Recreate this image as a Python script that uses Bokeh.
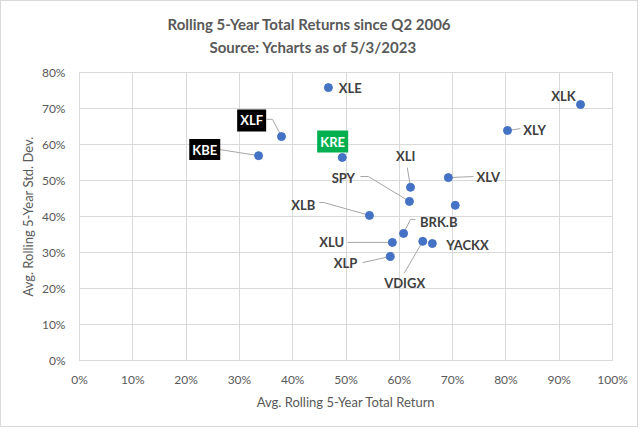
from bokeh.plotting import figure
from bokeh.models import Range1d, FixedTicker, PrintfTickFormatter, Title, ColumnDataSource
from bokeh.core.properties import value
from bokeh.embed import file_html
from bokeh.resources import INLINE

# ---- data ----
tickers = ["XLE", "XLF", "KBE", "KRE", "XLK", "XLY", "XLV", "XLI", "SPY", "",
           "XLB", "BRK.B", "XLU", "VDIGX", "YACKX", "XLP"]
avg_return = [46.7, 37.9, 33.6, 49.3, 94.0, 80.3, 69.2, 62.1, 61.9, 70.5,
              54.4, 60.8, 58.7, 64.4, 66.2, 58.3]
avg_stdev = [75.8, 62.2, 56.9, 56.4, 71.1, 63.9, 50.8, 48.1, 44.2, 43.1,
             40.3, 35.3, 32.8, 33.1, 32.5, 28.9]
x_ticks = [0, 10, 20, 30, 40, 50, 60, 70, 80, 90, 100]
y_ticks = [0, 10, 20, 30, 40, 50, 60, 70, 80]
title_lines = ["Rolling 5-Year Total Returns since Q2 2006", "Source: Ycharts as of 5/3/2023"]
x_title = "Avg. Rolling 5-Year Total Return"
y_title = "Avg. Rolling 5-Year Std. Dev."

# ---- label layout (label centre, optional box, optional leader bends) ----
label_layout = {
    "XLE": dict(x=50.8, y=75.8),
    "XLF": dict(x=32.3, y=66.7, box=("#000000", 29, 22), leader=[(35.1, 67.0), (36.2, 67.0)]),
    "KBE": dict(x=23.5, y=58.6, box=("#000000", 31, 21), leader=[(26.3, 58.6)]),
    "KRE": dict(x=47.5, y=60.8, box=("#00B050", 31, 22)),
    "XLK": dict(x=90.8, y=73.6),
    "XLY": dict(x=85.4, y=63.9, leader=[(82.7, 64.4)]),
    "XLV": dict(x=76.7, y=51.1, leader=[(73.9, 51.1)]),
    "XLI": dict(x=61.2, y=56.7, leader=[(61.5, 53.6)]),
    "SPY": dict(x=49.5, y=50.8, leader=[(52.7, 51.1), (54.2, 51.1)]),
    "XLB": dict(x=42.0, y=43.3, leader=[(45.0, 43.9), (45.8, 43.9)]),
    "BRK.B": dict(x=67.4, y=38.6, leader=[(63.0, 39.2), (62.1, 39.2)]),
    "XLU": dict(x=47.3, y=32.8, leader=[(50.3, 32.8)]),
    "YACKX": dict(x=72.8, y=32.2),
    "VDIGX": dict(x=61.0, y=21.4, leader=[(60.9, 24.2)]),
    "XLP": dict(x=49.9, y=27.2, leader=[(53.1, 27.2)]),
}

FONT = "Lato"
GRID = "#D9D9D9"
TXT = "#595959"
LBL = "#404040"
BLUE = "#4472C4"

p = figure(width=638, height=427, x_range=Range1d(0, 100), y_range=Range1d(0, 80),
           output_backend="svg", toolbar_location=None, title=None,
           min_border_left=78, min_border_right=27, min_border_top=71, min_border_bottom=68)
p.styles = {"border": "1px solid #D9D9D9"}
p.background_fill_color = "white"
p.border_fill_color = "white"
p.outline_line_color = GRID

p.xaxis.ticker = FixedTicker(ticks=x_ticks)
p.yaxis.ticker = FixedTicker(ticks=y_ticks)
p.xaxis.formatter = PrintfTickFormatter(format="%d%%")
p.yaxis.formatter = PrintfTickFormatter(format="%d%%")
for ax in (p.xaxis, p.yaxis):
    ax.major_tick_out = 0
    ax.major_tick_in = 0
    ax.minor_tick_out = 0
    ax.minor_tick_in = 0
    ax.axis_line_color = GRID
    ax.major_label_text_font = FONT
    ax.major_label_text_font_size = "12px"
    ax.major_label_text_color = TXT
    ax.axis_label_text_font = FONT
    ax.axis_label_text_font_size = "13px"
    ax.axis_label_text_font_style = "normal"
    ax.axis_label_text_color = TXT
p.xaxis.major_label_standoff = 11
p.yaxis.major_label_standoff = 14
p.xaxis.axis_label = x_title
p.yaxis.axis_label = y_title
p.xaxis.axis_label_standoff = 4
p.yaxis.axis_label_standoff = 3
p.grid.grid_line_color = GRID
p.grid.grid_line_width = 1

# leaders
pt = {t: (x, y) for t, x, y in zip(tickers, avg_return, avg_stdev)}
lx, ly = [], []
for t, cfg in label_layout.items():
    if "leader" in cfg:
        lx.append([a for a, b in cfg["leader"]] + [pt[t][0]])
        ly.append([b for a, b in cfg["leader"]] + [pt[t][1]])
p.multi_line(lx, ly, line_color="#A6A6A6", line_width=1)

# points
src = ColumnDataSource(dict(x=avg_return, y=avg_stdev, t=tickers))
p.scatter("x", "y", source=src, size=8, fill_color=BLUE, line_color=BLUE)

# boxes
bx, by, bw, bh, bc = [], [], [], [], []
for t, cfg in label_layout.items():
    if "box" in cfg:
        c, w, h = cfg["box"]
        bx.append(cfg["x"]); by.append(cfg["y"]); bw.append(w); bh.append(h); bc.append(c)
p.rect(bx, by, width=bw, height=bh, width_units="screen", height_units="screen",
       fill_color=bc, line_color=None)

# label texts
tx, ty, tt, tc = [], [], [], []
for t, cfg in label_layout.items():
    tx.append(cfg["x"]); ty.append(cfg["y"]); tt.append(t)
    tc.append("white" if "box" in cfg else LBL)
p.text(tx, ty, text=tt, text_color=tc, text_font=value(FONT), text_font_size="13px",
       text_font_style="bold", text_align="center", text_baseline="middle")

# titles (first added sits nearest the frame); a blank spacer title first
p.add_layout(Title(text=" ", standoff=12, text_font_size="1px"), "above")
p.add_layout(Title(text=title_lines[1], align="left", offset=130, standoff=3,
                   text_font=FONT, text_font_size="15px", text_font_style="bold",
                   text_color=TXT), "above")
p.add_layout(Title(text=title_lines[0], align="left", offset=88, standoff=4,
                   text_font=FONT, text_font_size="15px", text_font_style="bold",
                   text_color=TXT), "above")

open("out.html", "w").write(file_html(p, INLINE))
